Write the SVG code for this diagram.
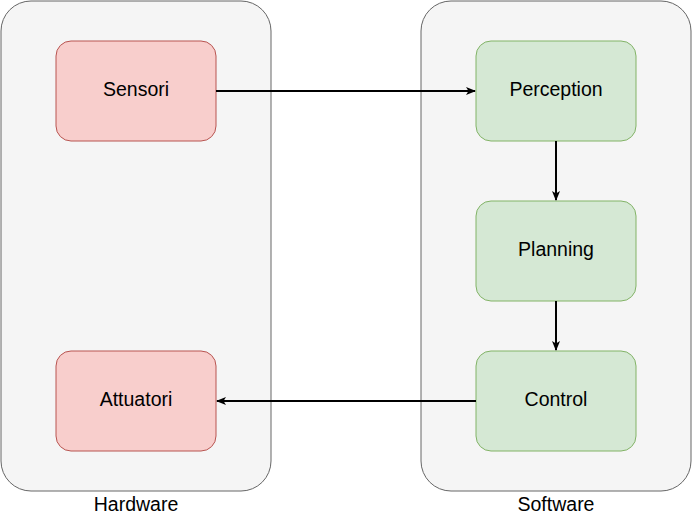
<svg xmlns="http://www.w3.org/2000/svg" width="693" height="523" viewBox="0 0 693 523">
<defs>
<style>
.cont{fill:#f5f5f5;stroke:#666666;stroke-width:1}
.red{fill:#f8cecc;stroke:#b85450;stroke-width:1}
.green{fill:#d5e8d4;stroke:#82b366;stroke-width:1}
text{font-family:"Liberation Sans",Arial,Helvetica,sans-serif;font-size:19.5px;fill:#000000;text-anchor:middle}
.edge{fill:none;stroke:#000000;stroke-width:2}
</style>
<marker id="arr" viewBox="0 0 10 8" refX="9" refY="4" markerWidth="10" markerHeight="8" markerUnits="userSpaceOnUse" orient="auto">
<path d="M0,0 L10,4 L0,8 L2.5,4 Z" fill="#000000"/>
</marker>
</defs>
<rect width="693" height="523" fill="#ffffff"/>
<g id="hardware">
<rect class="cont" x="1" y="1" width="270" height="490" rx="30" ry="30"/>
<text x="136" y="511">Hardware</text>
</g>
<g id="software">
<rect class="cont" x="421" y="1" width="270" height="490" rx="30" ry="30"/>
<text x="556" y="511">Software</text>
</g>
<g id="sensori">
<rect class="red" x="56" y="41" width="160" height="100" rx="15" ry="15"/>
<text x="136" y="96">Sensori</text>
</g>
<g id="attuatori">
<rect class="red" x="56" y="351" width="160" height="100" rx="15" ry="15"/>
<text x="136" y="406">Attuatori</text>
</g>
<g id="perception">
<rect class="green" x="476" y="41" width="160" height="100" rx="15" ry="15"/>
<text x="556" y="96">Perception</text>
</g>
<g id="planning">
<rect class="green" x="476" y="201" width="160" height="100" rx="15" ry="15"/>
<text x="556" y="256">Planning</text>
</g>
<g id="control">
<rect class="green" x="476" y="351" width="160" height="100" rx="15" ry="15"/>
<text x="556" y="406">Control</text>
</g>
<g id="connectors">
<path class="edge" d="M216,91 L475,91" marker-end="url(#arr)"/>
<path class="edge" d="M556,141 L556,200" marker-end="url(#arr)"/>
<path class="edge" d="M556,301 L556,350" marker-end="url(#arr)"/>
<path class="edge" d="M476,401 L217,401" marker-end="url(#arr)"/>
</g>
</svg>
